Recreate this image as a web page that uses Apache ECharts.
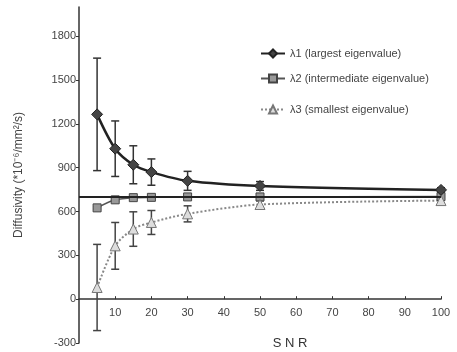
<!DOCTYPE html>
<html>
<head>
<meta charset="utf-8">
<script src="https://cdn.jsdelivr.net/npm/echarts@6/dist/echarts.min.js"></script>
<style>html,body{margin:0;padding:0;background:#fff}#chart{width:457px;height:352px}</style>
</head>
<body>
<div id="chart"></div>
<script>
var snr = [5, 10, 15, 20, 30, 50, 100]
var l1 = [1265, 1030, 920, 870, 810, 775, 748]
var l1Err = [385, 190, 130, 90, 65, 30, 15]
var l2 = [625, 680, 695, 697, 700, 700, 702]
var l2Err = [8, 8, 8, 6, 6, 5, 5]
var l3 = [80, 365, 480, 525, 584, 648, 675]
var l3Err = [295, 160, 118, 82, 55, 25, 15]
var yTicks = [-300, 0, 300, 600, 900, 1200, 1500, 1800]
var refLine = 700
var names = ['λ1 (largest eigenvalue)', 'λ2 (intermediate eigenvalue)', 'λ3 (smallest eigenvalue)']

var yMin = -300, yMax = 2000
var gridTop = 7, gridBottom = 9, H = 352
// x axis sits on y = 0, so shift it up from the grid bottom
var zeroOffset = (H - gridTop - gridBottom) * (0 - yMin) / (yMax - yMin)

var errorBars = (mean, err, color) => ({
    type: 'custom',
    z: 1,
    renderItem: (params, api) => {
        var x = api.value(0)
        var top = api.coord([x, api.value(2)])
        var bot = api.coord([x, api.value(1)])
        var w = 4
        var st = {stroke: color, lineWidth: 1.5}
        return {type: 'group', children: [
            {type: 'line', shape: {x1: top[0], y1: top[1], x2: bot[0], y2: bot[1]}, style: st},
            {type: 'line', shape: {x1: top[0]-w, y1: top[1], x2: top[0]+w, y2: top[1]}, style: st},
            {type: 'line', shape: {x1: bot[0]-w, y1: bot[1], x2: bot[0]+w, y2: bot[1]}, style: st}
        ]}
    },
    encode: {x: 0, y: [1, 2]},
    data: snr.map((s, i) => [s, mean[i] - err[i], mean[i] + err[i]])
})

var pts = arr => snr.map((s, i) => [s, arr[i]])
var legendAt = (name, top) => ({
    data: [name], left: 255, top: top, itemWidth: 24, itemHeight: 10, itemGap: 4,
    textStyle: {fontFamily: 'Liberation Sans', fontSize: 11, color: '#444'}
})

var chart = echarts.init(document.getElementById('chart'))
chart.setOption({
    backgroundColor: '#fff',
    animation: false,
    grid: {left: 79, right: 16, top: gridTop, bottom: gridBottom, outerBoundsMode: 'none'},
    legend: [legendAt(names[0], 43), legendAt(names[1], 68), legendAt(names[2], 99)],
    xAxis: {
        type: 'value', min: 0, max: 100, interval: 10,
        position: 'bottom', offset: -zeroOffset,
        name: 'S N R', nameLocation: 'middle', nameGap: 38,
        nameTextStyle: {fontFamily: 'Liberation Sans', fontSize: 13, color: '#333', padding: [0, 0, 0, 60]},
        axisLine: {onZero: false, lineStyle: {color: '#333', width: 1.5}},
        axisTick: {show: true, length: 3, inside: true, lineStyle: {color: '#333'}},
        axisLabel: {showMinLabel: false, margin: 8, fontFamily: 'Liberation Sans', fontSize: 11, color: '#444'},
        splitLine: {show: false}
    },
    yAxis: {
        type: 'value', min: yMin, max: yMax, interval: 300,
        name: 'Diffusivity (*10⁻⁶/mm²/s)', nameLocation: 'middle', nameGap: 54, nameRotate: 90,
        nameTextStyle: {fontFamily: 'Liberation Sans', fontSize: 12, color: '#444', padding: [0, 0, 0, 0]},
        axisLine: {show: true, onZero: false, lineStyle: {color: '#333', width: 1.5}},
        axisTick: {show: true, length: 3, customValues: yTicks, lineStyle: {color: '#333'}},
        axisLabel: {customValues: yTicks, margin: 3, formatter: v => String(v),
            fontFamily: 'Liberation Sans', fontSize: 11, color: '#444'},
        splitLine: {show: false}
    },
    series: [
        errorBars(l1, l1Err, '#333'),
        errorBars(l2, l2Err, '#555'),
        errorBars(l3, l3Err, '#444'),
        {
            name: names[0], type: 'line', data: pts(l1), smooth: 0.3, z: 4,
            symbol: 'diamond', symbolSize: 11,
            lineStyle: {color: '#222', width: 2.5},
            itemStyle: {color: '#444', borderColor: '#222', borderWidth: 1}
        },
        {
            name: names[1], type: 'line', data: pts(l2), smooth: 0.3, z: 3,
            symbol: 'rect', symbolSize: 8,
            lineStyle: {color: '#555', width: 1.5},
            itemStyle: {color: '#999', borderColor: '#444', borderWidth: 1},
            markLine: {
                silent: true, symbol: 'none', label: {show: false},
                lineStyle: {color: '#222', width: 2, type: 'solid'},
                data: [{yAxis: refLine}]
            }
        },
        {
            name: names[2], type: 'line', data: pts(l3), smooth: 0.3, z: 3,
            symbol: 'triangle', symbolSize: 10,
            lineStyle: {color: '#888', width: 2, type: 'dotted'},
            itemStyle: {color: '#ddd', borderColor: '#777', borderWidth: 1}
        }
    ]
})
</script>
</body>
</html>
